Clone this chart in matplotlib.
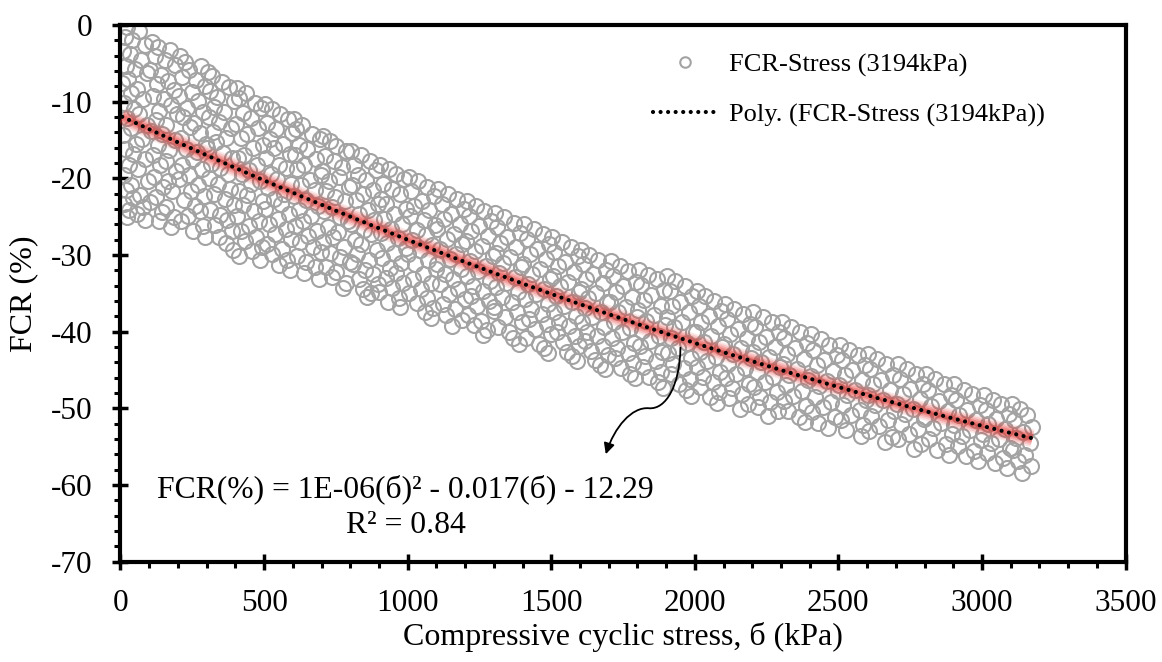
import numpy as np
import matplotlib
matplotlib.use('Agg')
import matplotlib.pyplot as plt
from matplotlib.path import Path
from matplotlib.patches import FancyArrowPatch
from matplotlib.ticker import MultipleLocator

plt.rcParams['font.family'] = ['Liberation Serif', 'DejaVu Serif']
plt.rcParams['axes.unicode_minus'] = False

# compressive cyclic stress (kPa), one line per ~100 kPa strip
stress = [
    22, 63, 14, 41, 87, 8, 33, 71, 19, 52, 94, 27, 6, 58, 38, 80, 12, 47, 66, 24, 91, 35, 9, 74, 55, 16, 43, 84, 29, 61, 11, 97, 37, 20, 68, 45, 13, 78, 31, 57, 24, 86,
    108, 131, 172, 119, 154, 191, 103, 142, 167, 126, 185, 114, 150, 177, 135, 198, 122, 160, 106, 146, 189, 129, 170, 112, 157, 138, 194, 117, 164, 149, 181, 124, 101, 159, 143, 186, 133, 175,
    207, 226, 281, 239, 213, 262, 295, 248, 204, 271, 233, 289, 217, 255, 242, 276, 209, 298, 229, 265, 251, 214, 284, 237, 203, 269, 246, 292, 221, 258, 277, 235, 211, 287, 252, 296,
    304, 318, 352, 379, 311, 336, 394, 326, 361, 307, 344, 385, 321, 368, 331, 302, 357, 390, 315, 348, 374, 309, 339, 383, 324, 363, 397, 313, 346, 371, 329, 388, 342, 366, 392,
    406, 437, 412, 468, 491, 425, 453, 402, 480, 441, 418, 496, 462, 431, 408, 475, 449, 422, 487, 456, 414, 439, 498, 428, 466, 404, 483, 447, 419, 472, 435, 493, 459, 411, 485,
    503, 529, 556, 584, 511, 542, 597, 520, 566, 535, 589, 507, 551, 578, 524, 544, 593, 515, 571, 533, 560, 502, 587, 547, 518, 575, 539, 594, 509, 563, 528, 581, 553, 592,
    605, 632, 611, 668, 694, 623, 651, 607, 682, 640, 616, 697, 659, 628, 676, 603, 645, 689, 620, 663, 636, 609, 685, 653, 626, 671, 698, 614, 647, 679, 638, 692,
    706, 731, 752, 787, 713, 744, 771, 702, 760, 726, 795, 717, 748, 782, 735, 709, 766, 791, 722, 757, 740, 704, 778, 729, 763, 798, 715, 750, 737, 785, 774,
    804, 839, 868, 812, 891, 826, 855, 807, 878, 843, 819, 896, 861, 831, 884, 802, 849, 873, 815, 837, 894, 823, 866, 809, 852, 881, 829, 898, 846, 871, 858,
    903, 934, 961, 988, 915, 947, 972, 908, 926, 993, 954, 919, 981, 941, 906, 967, 929, 996, 951, 912, 977, 938, 959, 923, 985, 944, 901, 969, 931, 975,
    1004, 1037, 1068, 1012, 1091, 1049, 1021, 1076, 1008, 1057, 1094, 1031, 1063, 1016, 1085, 1042, 1002, 1071, 1026, 1098, 1053, 1019, 1080, 1045, 1006, 1066, 1034, 1088, 1059, 1082,
    1107, 1141, 1173, 1118, 1195, 1152, 1126, 1183, 1103, 1162, 1137, 1191, 1114, 1170, 1148, 1101, 1186, 1129, 1158, 1111, 1177, 1144, 1198, 1122, 1166, 1134, 1188, 1155,
    1205, 1238, 1267, 1213, 1292, 1249, 1221, 1280, 1202, 1259, 1233, 1296, 1216, 1274, 1244, 1208, 1287, 1227, 1262, 1219, 1284, 1241, 1299, 1211, 1256, 1231, 1277, 1264,
    1304, 1336, 1369, 1312, 1391, 1347, 1322, 1378, 1306, 1358, 1331, 1394, 1317, 1373, 1342, 1309, 1385, 1327, 1363, 1302, 1381, 1339, 1397, 1315, 1354, 1366, 1388,
    1406, 1439, 1471, 1414, 1493, 1451, 1425, 1482, 1403, 1462, 1434, 1497, 1418, 1476, 1446, 1409, 1488, 1429, 1467, 1421, 1485, 1443, 1499, 1412, 1457, 1474, 1490,
    1503, 1537, 1568, 1511, 1592, 1548, 1522, 1581, 1506, 1559, 1531, 1596, 1515, 1574, 1543, 1508, 1587, 1527, 1563, 1519, 1584, 1541, 1598, 1554, 1571, 1589,
    1605, 1633, 1664, 1612, 1691, 1647, 1621, 1679, 1603, 1656, 1628, 1694, 1616, 1672, 1641, 1608, 1685, 1625, 1660, 1618, 1682, 1638, 1697, 1652, 1669, 1688,
    1707, 1738, 1769, 1715, 1794, 1751, 1724, 1783, 1704, 1762, 1733, 1797, 1719, 1776, 1745, 1711, 1788, 1729, 1766, 1721, 1785, 1742, 1773, 1791,
    1806, 1837, 1868, 1813, 1893, 1849, 1822, 1881, 1803, 1859, 1831, 1896, 1817, 1875, 1844, 1809, 1887, 1827, 1864, 1819, 1884, 1841, 1871, 1890,
    1904, 1932, 1965, 1912, 1991, 1948, 1921, 1979, 1902, 1956, 1928, 1995, 1916, 1973, 1941, 1907, 1986, 1925, 1961, 1918, 1983, 1944, 1969, 1988,
    2006, 2036, 2067, 2013, 2092, 2049, 2022, 2081, 2003, 2058, 2031, 2096, 2017, 2074, 2043, 2009, 2087, 2027, 2063, 2019, 2084, 2053, 2078,
    2105, 2138, 2169, 2112, 2194, 2151, 2124, 2183, 2102, 2160, 2133, 2197, 2117, 2176, 2145, 2108, 2188, 2128, 2165, 2120, 2186, 2156,
    2204, 2237, 2268, 2211, 2293, 2249, 2223, 2281, 2202, 2259, 2232, 2296, 2216, 2274, 2244, 2207, 2286, 2227, 2263, 2219, 2289, 2254,
    2304, 2335, 2368, 2312, 2391, 2348, 2322, 2379, 2306, 2357, 2329, 2395, 2316, 2373, 2342, 2309, 2386, 2326, 2362, 2383,
    2406, 2438, 2469, 2413, 2494, 2451, 2424, 2482, 2403, 2461, 2433, 2497, 2418, 2476, 2445, 2409, 2488, 2428, 2465,
    2505, 2537, 2568, 2512, 2593, 2549, 2522, 2581, 2503, 2559, 2531, 2596, 2516, 2574, 2544, 2508, 2587, 2527, 2578,
    2604, 2636, 2667, 2611, 2692, 2648, 2621, 2680, 2602, 2657, 2629, 2695, 2615, 2673, 2643, 2607, 2686, 2662,
    2706, 2738, 2769, 2713, 2794, 2751, 2724, 2783, 2703, 2761, 2733, 2797, 2718, 2776, 2745, 2709, 2788, 2765,
    2805, 2837, 2868, 2812, 2893, 2849, 2822, 2881, 2803, 2859, 2831, 2896, 2816, 2874, 2845, 2886,
    2904, 2936, 2967, 2911, 2992, 2948, 2921, 2980, 2902, 2957, 2929, 2995, 2915, 2973, 2944, 2986,
    3006, 3037, 3068, 3013, 3093, 3049, 3022, 3081, 3003, 3058, 3031, 3096, 3017, 3074, 3044, 3087,
    3104, 3131, 3158, 3112, 3176, 3142, 3120, 3167, 3107, 3150, 3126, 3172, 3138,
]

# FCR (%), same order as stress
fcr = [
    -0.3, -0.8, -1.5, -1.9, -2.6, -3.4, -3.8, -4.5, -5.3, -5.8, -6.2, -7.1, -7.6, -8.4, -8.9, -9.7, -10.2, -11.0, -11.6, -12.1, -13.0, -13.4, -14.3, -14.9, -15.5, -16.2, -16.8, -17.5, -18.3, -18.8, -19.6, -20.3, -20.9, -21.5, -22.2, -22.6, -23.3, -23.8, -24.2, -24.7, -25.0, -25.4,
    -2.2, -2.9, -3.3, -4.1, -4.6, -5.2, -5.9, -6.5, -7.3, -7.7, -8.5, -9.2, -9.7, -10.5, -11.2, -11.6, -12.4, -13.1, -13.8, -14.2, -15.0, -15.7, -16.3, -16.9, -17.8, -18.3, -19.0, -19.8, -20.4, -21.1, -21.7, -22.5, -23.1, -23.7, -24.4, -25.0, -25.6, -26.3,
    -4.1, -4.8, -5.4, -5.9, -6.8, -7.2, -8.0, -8.7, -9.3, -9.9, -10.8, -11.3, -12.0, -12.8, -13.3, -14.1, -14.7, -15.5, -16.2, -16.6, -17.5, -18.2, -18.8, -19.6, -20.1, -20.9, -21.6, -22.3, -22.8, -23.6, -24.3, -24.9, -25.6, -26.2, -26.9, -27.6,
    -6.1, -6.7, -7.4, -8.1, -8.6, -9.4, -9.9, -10.7, -11.3, -12.0, -12.6, -13.4, -14.0, -14.7, -15.2, -16.0, -16.7, -17.3, -18.1, -18.6, -19.4, -20.0, -20.8, -21.4, -22.1, -22.7, -23.5, -24.1, -24.8, -25.5, -26.1, -26.9, -27.6, -28.4, -29.3,
    -8.2, -8.9, -9.5, -10.2, -10.8, -11.5, -12.1, -12.9, -13.4, -14.2, -14.8, -15.6, -16.1, -16.9, -17.4, -18.2, -18.9, -19.5, -20.3, -20.8, -21.6, -22.2, -22.9, -23.5, -24.3, -24.9, -25.6, -26.2, -26.9, -27.6, -28.2, -28.9, -29.5, -30.1, -30.7,
    -10.3, -10.9, -11.6, -12.3, -12.8, -13.6, -14.1, -14.9, -15.5, -16.1, -16.8, -17.4, -18.2, -18.7, -19.5, -20.1, -20.8, -21.3, -22.1, -22.7, -23.4, -24.0, -24.7, -25.3, -26.0, -26.6, -27.3, -27.9, -28.6, -29.2, -29.9, -30.6, -31.3, -32.0,
    -12.3, -13.0, -13.6, -14.2, -14.9, -15.6, -16.2, -16.9, -17.5, -18.3, -18.8, -19.6, -20.2, -20.9, -21.5, -22.3, -22.8, -23.6, -24.2, -24.9, -25.6, -26.2, -26.9, -27.5, -28.3, -28.9, -29.6, -30.2, -30.9, -31.6, -32.3, -33.1,
    -14.5, -15.1, -15.8, -16.5, -17.1, -17.7, -18.5, -19.1, -19.8, -20.3, -21.1, -21.7, -22.4, -23.0, -23.7, -24.3, -25.0, -25.6, -26.4, -27.0, -27.6, -28.3, -28.9, -29.7, -30.3, -30.9, -31.6, -32.2, -32.9, -33.6, -34.3,
    -16.4, -17.0, -17.7, -18.3, -18.9, -19.6, -20.2, -20.9, -21.5, -22.1, -22.8, -23.4, -24.1, -24.7, -25.4, -26.0, -26.7, -27.3, -28.0, -28.6, -29.3, -29.9, -30.6, -31.2, -31.9, -32.5, -33.2, -33.8, -34.4, -35.0, -35.5,
    -18.2, -18.8, -19.5, -20.1, -20.8, -21.4, -22.0, -22.7, -23.3, -24.0, -24.6, -25.3, -25.9, -26.6, -27.2, -27.8, -28.5, -29.1, -29.8, -30.4, -31.1, -31.7, -32.4, -33.0, -33.6, -34.3, -34.9, -35.6, -36.2, -36.8,
    -19.8, -20.4, -21.1, -21.7, -22.3, -23.0, -23.6, -24.2, -24.9, -25.5, -26.1, -26.8, -27.4, -28.0, -28.7, -29.3, -29.9, -30.6, -31.2, -31.8, -32.5, -33.1, -33.7, -34.4, -35.0, -35.6, -36.3, -36.9, -37.5, -38.2,
    -21.4, -22.0, -22.7, -23.3, -24.0, -24.6, -25.3, -25.9, -26.6, -27.3, -27.9, -28.6, -29.2, -29.9, -30.5, -31.2, -31.8, -32.5, -33.2, -33.8, -34.5, -35.1, -35.8, -36.4, -37.1, -37.8, -38.5, -39.3,
    -23.0, -23.6, -24.3, -24.9, -25.6, -26.2, -26.9, -27.5, -28.2, -28.8, -29.5, -30.1, -30.8, -31.4, -32.1, -32.7, -33.4, -34.0, -34.7, -35.3, -36.0, -36.6, -37.3, -37.9, -38.6, -39.2, -39.8, -40.4,
    -24.5, -25.1, -25.8, -26.4, -27.1, -27.7, -28.4, -29.0, -29.7, -30.3, -31.0, -31.6, -32.3, -32.9, -33.6, -34.2, -34.9, -35.5, -36.2, -36.8, -37.5, -38.1, -38.8, -39.4, -40.1, -40.8, -41.6,
    -26.0, -26.6, -27.3, -27.9, -28.6, -29.2, -29.9, -30.5, -31.2, -31.8, -32.5, -33.1, -33.8, -34.4, -35.1, -35.7, -36.4, -37.0, -37.7, -38.3, -39.0, -39.6, -40.3, -40.9, -41.6, -42.2, -42.8,
    -27.6, -28.3, -28.9, -29.6, -30.2, -30.9, -31.5, -32.2, -32.8, -33.5, -34.1, -34.8, -35.4, -36.1, -36.7, -37.4, -38.0, -38.7, -39.3, -40.0, -40.6, -41.3, -41.9, -42.6, -43.2, -43.9,
    -29.4, -30.0, -30.6, -31.2, -31.9, -32.5, -33.1, -33.7, -34.4, -35.0, -35.6, -36.2, -36.9, -37.5, -38.1, -38.7, -39.4, -40.0, -40.6, -41.2, -41.9, -42.5, -43.1, -43.7, -44.3, -44.9,
    -30.8, -31.5, -32.1, -32.8, -33.5, -34.1, -34.8, -35.5, -36.1, -36.8, -37.5, -38.1, -38.8, -39.5, -40.1, -40.8, -41.5, -42.1, -42.8, -43.5, -44.1, -44.8, -45.5, -46.1,
    -31.9, -32.6, -33.2, -33.9, -34.6, -35.2, -35.9, -36.6, -37.2, -37.9, -38.6, -39.2, -39.9, -40.6, -41.2, -41.9, -42.6, -43.2, -43.9, -44.6, -45.3, -45.9, -46.6, -47.3,
    -32.7, -33.4, -34.0, -34.7, -35.4, -36.1, -36.7, -37.4, -38.1, -38.8, -39.4, -40.1, -40.8, -41.5, -42.1, -42.8, -43.5, -44.2, -44.8, -45.5, -46.2, -46.9, -47.6, -48.4,
    -34.7, -35.4, -36.0, -36.7, -37.3, -38.0, -38.7, -39.3, -40.0, -40.6, -41.3, -42.0, -42.6, -43.3, -43.9, -44.6, -45.3, -45.9, -46.6, -47.2, -47.9, -48.6, -49.3,
    -36.4, -37.0, -37.7, -38.3, -39.0, -39.6, -40.3, -40.9, -41.6, -42.2, -42.9, -43.5, -44.2, -44.8, -45.5, -46.1, -46.8, -47.4, -48.1, -48.7, -49.4, -50.1,
    -37.5, -38.1, -38.8, -39.4, -40.1, -40.7, -41.4, -42.0, -42.7, -43.3, -44.0, -44.6, -45.3, -45.9, -46.6, -47.2, -47.9, -48.5, -49.2, -49.8, -50.4, -51.0,
    -38.7, -39.4, -40.1, -40.8, -41.5, -42.2, -42.9, -43.6, -44.2, -44.9, -45.6, -46.3, -47.0, -47.7, -48.4, -49.0, -49.7, -50.4, -51.1, -51.8,
    -40.3, -41.0, -41.7, -42.4, -43.0, -43.7, -44.4, -45.1, -45.8, -46.4, -47.1, -47.8, -48.5, -49.2, -49.8, -50.5, -51.2, -51.9, -52.6,
    -41.7, -42.4, -43.0, -43.7, -44.3, -45.0, -45.6, -46.3, -47.0, -47.6, -48.3, -48.9, -49.6, -50.2, -50.9, -51.6, -52.2, -52.9, -53.6,
    -42.9, -43.6, -44.2, -44.9, -45.6, -46.3, -46.9, -47.6, -48.3, -48.9, -49.6, -50.3, -51.0, -51.6, -52.3, -53.0, -53.7, -54.4,
    -44.2, -44.9, -45.5, -46.2, -46.8, -47.5, -48.1, -48.8, -49.4, -50.1, -50.8, -51.4, -52.1, -52.7, -53.4, -54.0, -54.7, -55.3,
    -45.5, -46.2, -46.9, -47.6, -48.3, -49.0, -49.7, -50.4, -51.2, -51.9, -52.6, -53.3, -54.0, -54.7, -55.4, -56.1,
    -46.9, -47.6, -48.2, -48.9, -49.6, -50.2, -50.9, -51.6, -52.2, -52.9, -53.6, -54.2, -54.9, -55.6, -56.2, -56.9,
    -48.3, -48.9, -49.5, -50.2, -50.8, -51.4, -52.1, -52.7, -53.3, -54.0, -54.6, -55.2, -55.9, -56.5, -57.1, -57.8,
    -49.4, -50.1, -50.9, -51.6, -52.4, -53.1, -53.9, -54.6, -55.4, -56.1, -56.9, -57.6, -58.4,
]

x_ticks = [0, 500, 1000, 1500, 2000, 2500, 3000, 3500]
y_ticks = [-70, -60, -50, -40, -30, -20, -10, 0]
series_label = 'FCR-Stress (3194kPa)'
trend_label = 'Poly. (FCR-Stress (3194kPa))'
eq_line1 = 'FCR(%) = 1E-06(б)² - 0.017(б) - 12.29'
eq_line2 = 'R² = 0.84'

fig = plt.figure(figsize=(11.62, 6.62), dpi=100)
ax = fig.add_axes([0.1037, 0.1518, 0.8649, 0.8104])

pts, = ax.plot(stress, fcr, 'o', ls='none', ms=10.8, mfc='none', mec='#a3a3a3', mew=1.5, zorder=2)

# 2nd order polynomial trend, with a soft red glow underneath
coef = np.polyfit(stress, fcr, 2)
xs = np.linspace(min(stress), max(stress), 300)
ys = np.polyval(coef, xs)
for lw, a in [(13, 0.12), (10.5, 0.16), (8, 0.22), (5.5, 0.28), (3, 0.3)]:
    ax.plot(xs, ys, color='#e53935', lw=lw, alpha=a, solid_capstyle='butt', zorder=3)
trend, = ax.plot(xs, ys, color='black', lw=3, ls=(0, (0.01, 1.8)), dash_capstyle='round', zorder=4)

ax.set_xlim(0, 3500)
ax.set_ylim(-70, 0)
ax.set_xticks(x_ticks)
ax.set_yticks(y_ticks)
ax.xaxis.set_minor_locator(MultipleLocator(100))
ax.yaxis.set_minor_locator(MultipleLocator(2))
ax.tick_params(which='major', direction='inout', length=12, width=2.5, labelsize=22.5, pad=14)
ax.tick_params(which='minor', direction='out', length=4, width=2.2)
ax.tick_params(top=False, right=False, which='both')
for s in ax.spines.values():
    s.set_linewidth(3)

ax.set_xlabel('Compressive cyclic stress, б (kPa)', fontsize=23, labelpad=3)
ax.set_ylabel('FCR (%)', fontsize=23, labelpad=9)

ax.legend([pts, trend], [series_label, trend_label], loc='center left',
          bbox_to_anchor=(0.5294, 0.8788), frameon=False, fontsize=19,
          borderpad=0, borderaxespad=0, handlelength=2.46, handletextpad=0.42,
          labelspacing=1.0, markerscale=0.7)

ax.text(993, -61.55, eq_line1, ha='center', va='baseline', fontsize=22.8)
ax.text(993, -66.25, eq_line2, ha='center', va='baseline', fontsize=22.8)

# curved pointer from the trend line down to the equation
verts = [(1950, -42.1), (1948, -47.0), (1900, -50.2), (1840, -50.0),
         (1780, -49.8), (1720, -52.5), (1690, -56.0)]
codes = [Path.MOVETO] + [Path.CURVE4] * 6
arrow = FancyArrowPatch(path=Path(verts, codes), arrowstyle='-|>', mutation_scale=16,
                        lw=1.3, color='black', zorder=5)
ax.add_patch(arrow)

fig.savefig('out.png', dpi=100)
